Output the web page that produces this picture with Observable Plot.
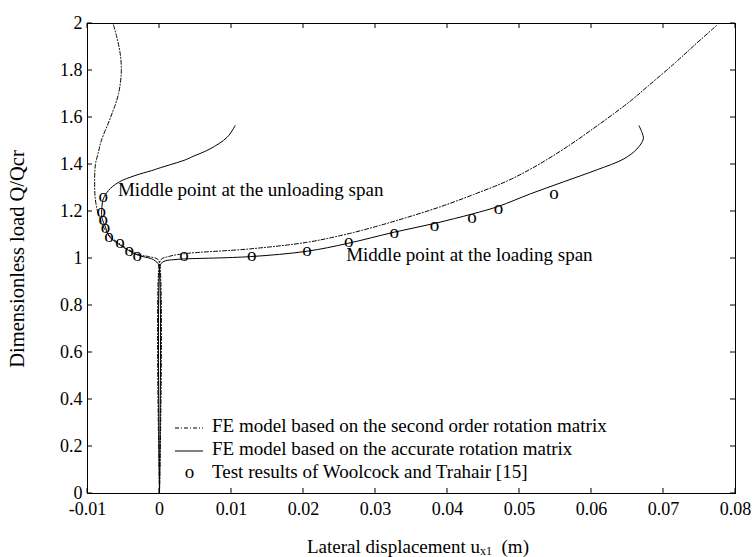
<!DOCTYPE html>
<html>
<head>
<meta charset="utf-8">
<script src="https://cdn.jsdelivr.net/npm/d3@7"></script>
<script src="https://cdn.jsdelivr.net/npm/@observablehq/plot@0.6"></script>
<style>
  body { margin: 0; background: #fff; }
  svg { display: block; }
</style>
</head>
<body>
<div id="chart"></div>
<script>
// ---- tick values and labels ----
const xTicks = [-0.01, 0, 0.01, 0.02, 0.03, 0.04, 0.05, 0.06, 0.07, 0.08];
const xTickLabels = ["-0.01", "0", "0.01", "0.02", "0.03", "0.04", "0.05", "0.06", "0.07", "0.08"];
const yTicks = [0, 0.2, 0.4, 0.6, 0.8, 1, 1.2, 1.4, 1.6, 1.8, 2];
const yTickLabels = ["0", "0.2", "0.4", "0.6", "0.8", "1", "1.2", "1.4", "1.6", "1.8", "2"];

const seriesNames = [
  "FE model based on the second order rotation matrix",
  "FE model based on the accurate rotation matrix",
  "Test results of Woolcock and Trahair [15]"
];
const annotationTexts = ["Middle point at the unloading span", "Middle point at the loading span"];
const xTitle = ["Lateral displacement u", "x1", "  (m)"];
const yTitle = "Dimensionless load Q/Qcr";

// ---- accurate rotation matrix, loading span (solid) ----
const accLoadX = [0, 0, 0.0002, 0.0008, 0.0020, 0.0033, 0.0126, 0.0205, 0.0261, 0.0326, 0.0383, 0.0435, 0.0471, 0.0515, 0.0561, 0.0608, 0.0645, 0.0663, 0.0672, 0.0670, 0.0666];
const accLoadY = [0, 0.95, 0.978, 0.990, 0.995, 0.998, 1.008, 1.031, 1.064, 1.112, 1.150, 1.190, 1.222, 1.275, 1.326, 1.378, 1.424, 1.466, 1.509, 1.537, 1.565];

// ---- accurate rotation matrix, unloading span (solid) ----
const accUnloadX = [0, 0, -0.0002, -0.0006, -0.0011, -0.0029, -0.0043, -0.0057, -0.0069, -0.0075, -0.0080, -0.0080, -0.0078, -0.0071, -0.0057, -0.0034, -0.0011, 0.0001, 0.0036, 0.0047, 0.0070, 0.0094, 0.0105];
const accUnloadY = [0, 0.95, 0.978, 0.990, 0.999, 1.013, 1.034, 1.062, 1.091, 1.133, 1.176, 1.218, 1.254, 1.289, 1.324, 1.353, 1.374, 1.386, 1.420, 1.435, 1.466, 1.516, 1.565];

// ---- second order rotation matrix, loading span (dash-dot) ----
const secLoadX = [0, 0, 0.0003, 0.0012, 0.0033, 0.0126, 0.0205, 0.0255, 0.0297, 0.0344, 0.0390, 0.0436, 0.0483, 0.0518, 0.0561, 0.0608, 0.0654, 0.0679, 0.0717, 0.0742, 0.0775];
const secLoadY = [0, 0.98, 0.998, 1.008, 1.020, 1.041, 1.069, 1.100, 1.133, 1.175, 1.220, 1.272, 1.330, 1.385, 1.465, 1.565, 1.670, 1.735, 1.835, 1.905, 1.995];

// ---- second order rotation matrix, unloading span (dash-dot) ----
const secUnloadX = [0, 0, -0.0003, -0.0015, -0.0030, -0.0043, -0.0057, -0.0069, -0.0077, -0.0082, -0.0086, -0.0089, -0.0090, -0.0089, -0.0085, -0.0081, -0.0068, -0.0057, -0.0053, -0.0055, -0.0060, -0.0064];
const secUnloadY = [0, 0.98, 0.998, 1.008, 1.018, 1.038, 1.066, 1.095, 1.130, 1.165, 1.200, 1.250, 1.300, 1.400, 1.450, 1.500, 1.600, 1.700, 1.800, 1.880, 1.950, 1.995];

// ---- test results (Woolcock and Trahair) ----
const testUnloadX = [-0.0078, -0.0081, -0.0078, -0.0075, -0.0070, -0.0055, -0.0042, -0.0031];
const testUnloadY = [1.259, 1.196, 1.161, 1.128, 1.089, 1.063, 1.029, 1.008];
const testLoadX = [0.0034, 0.0128, 0.0205, 0.0263, 0.0326, 0.0382, 0.0434, 0.0471, 0.0548];
const testLoadY = [1.008, 1.008, 1.030, 1.068, 1.105, 1.133, 1.169, 1.207, 1.272];

// ---- annotation anchors (data coordinates) ----
const annotationX = [-0.0057, 0.0260];
const annotationY = [1.2635, 0.987];

const pts = (xs, ys) => xs.map((x, i) => ({x, y: ys[i]}));
const FONT = "Liberation Serif";
const DASHDOT = "4,2,1,2";

const lineOpts = {x: "x", y: "y", stroke: "black", strokeWidth: 1, curve: "catmull-rom"};

const chart = Plot.plot({
  width: 752,
  height: 557,
  marginLeft: 87,
  marginRight: 17,
  marginTop: 23,
  marginBottom: 64,
  x: {domain: [-0.01, 0.08]},
  y: {domain: [0, 2]},
  style: {fontFamily: FONT, fontSize: "18px", background: "white", color: "black"},
  marks: [
    Plot.axisX({ticks: xTicks, tickSize: 0, tickPadding: 9, tickFormat: d => xTickLabels[xTicks.indexOf(d)], label: null, fontSize: 18, fontFamily: FONT}),
    Plot.axisY({ticks: yTicks, tickSize: 0, tickPadding: 5, tickFormat: d => yTickLabels[yTicks.indexOf(d)], label: null, fontSize: 18, fontFamily: FONT}),
    Plot.line(pts(secUnloadX, secUnloadY), {...lineOpts, strokeDasharray: DASHDOT}),
    Plot.line(pts(secLoadX, secLoadY), {...lineOpts, strokeDasharray: DASHDOT}),
    Plot.line(pts(accUnloadX, accUnloadY), lineOpts),
    Plot.line(pts(accLoadX, accLoadY), lineOpts),
    Plot.text(pts(testUnloadX, testUnloadY).concat(pts(testLoadX, testLoadY)), {x: "x", y: "y", text: () => "o", fontSize: 19, fontFamily: FONT, dy: -2, fill: "black"}),
    Plot.frame({stroke: "black", strokeWidth: 1})
  ]
});

document.getElementById("chart").appendChild(chart);

const svg = d3.select(chart);
const sx = chart.scale("x"), sy = chart.scale("y");
const [xl, xr] = [sx.apply(-0.01), sx.apply(0.08)];
const [yb, yt] = [sy.apply(0), sy.apply(2)];

// inward ticks on all four sides
const tk = svg.append("g").attr("stroke", "black").attr("stroke-width", 1);
xTicks.forEach(v => {
  const px = sx.apply(v);
  tk.append("line").attr("x1", px).attr("x2", px).attr("y1", yb).attr("y2", yb - 5);
  tk.append("line").attr("x1", px).attr("x2", px).attr("y1", yt).attr("y2", yt + 5);
});
yTicks.forEach(v => {
  const py = sy.apply(v);
  tk.append("line").attr("x1", xl).attr("x2", xl + 5).attr("y1", py).attr("y2", py);
  tk.append("line").attr("x1", xr).attr("x2", xr - 5).attr("y1", py).attr("y2", py);
});

// annotations
const ann = svg.append("g").attr("font-family", FONT).attr("font-size", 19).attr("fill", "black").attr("text-anchor", "start");
annotationTexts.forEach((t, i) => {
  ann.append("text").attr("x", sx.apply(annotationX[i])).attr("y", sy.apply(annotationY[i])).text(t);
});

// legend
const lg = svg.append("g").attr("font-family", FONT).attr("font-size", 19).attr("fill", "black").attr("text-anchor", "start");
lg.append("line").attr("x1", 175).attr("x2", 203).attr("y1", 428).attr("y2", 428)
  .attr("stroke", "black").attr("stroke-width", 1).attr("stroke-dasharray", DASHDOT);
lg.append("text").attr("x", 212).attr("y", 431.5).text(seriesNames[0]);
lg.append("line").attr("x1", 175).attr("x2", 203).attr("y1", 451).attr("y2", 451)
  .attr("stroke", "black").attr("stroke-width", 1);
lg.append("text").attr("x", 212).attr("y", 454.5).text(seriesNames[1]);
lg.append("text").attr("x", 189.5).attr("y", 477.5).attr("text-anchor", "middle").text("o");
lg.append("text").attr("x", 212).attr("y", 477.5).text(seriesNames[2]);

// axis titles
const xt = svg.append("text").attr("font-family", FONT).attr("font-size", 19).attr("fill", "black")
  .attr("text-anchor", "middle").attr("x", 418).attr("y", 553).attr("xml:space", "preserve");
xt.append("tspan").text(xTitle[0]);
xt.append("tspan").attr("font-size", 12).attr("dy", 2).text(xTitle[1]);
xt.append("tspan").attr("dy", -2).text(xTitle[2]);

svg.append("text").attr("font-family", FONT).attr("font-size", 20.5).attr("fill", "black")
  .attr("text-anchor", "middle")
  .attr("transform", "translate(24,259) rotate(-90)")
  .text(yTitle);
</script>
</body>
</html>
